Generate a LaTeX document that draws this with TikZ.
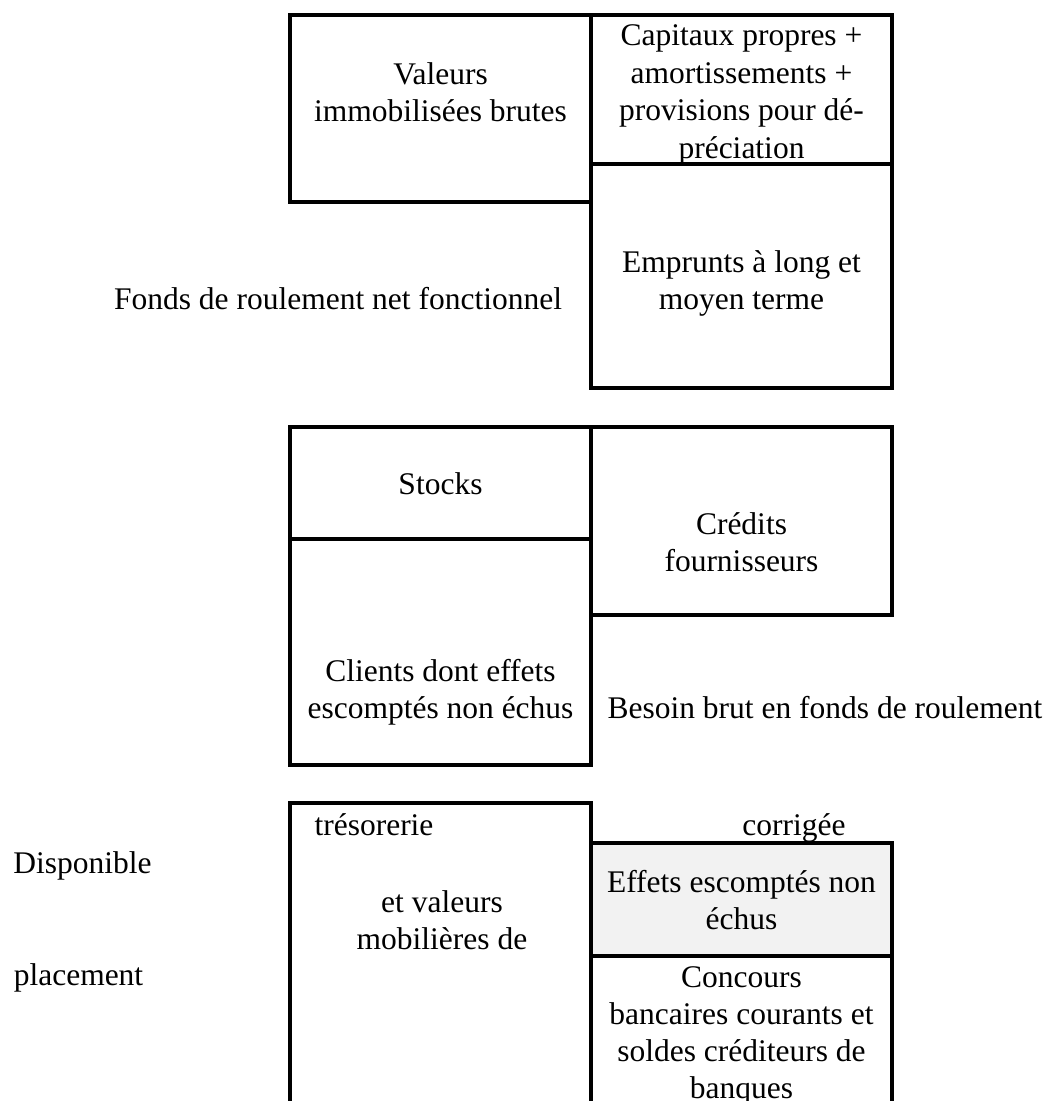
\documentclass[tikz,border=0pt]{standalone}
\usepackage{fontspec}
\setmainfont{Liberation Serif}
\definecolor{lightgrey}{RGB}{242,242,242}
\begin{document}
\begin{tikzpicture}[x=1pt,y=-1pt,
  box/.style={draw=black,line width=4pt,line join=miter},
  lbl/.style={font=\fontsize{31.5}{37}\selectfont,align=center,inner sep=0pt}]
\useasboundingbox (0,0) rectangle (1050,1101);
\clip (0,0) rectangle (1050,1101);
% top section
\draw[box] (290,15) rectangle (591,202);
\draw[box] (591,15) rectangle (892,163.5);
\draw[box] (591,163.5) rectangle (892,388);
\node[lbl] (valeurs) at (440.5,92) {Valeurs\\immobilisées brutes};
\node[lbl,font=\fontsize{31.5}{37.5}\selectfont] (capitaux) at (741.5,95) {Capitaux propres +\\amortissements +\\provisions pour dé-\\préciation};
\node[lbl] (emprunts) at (741.5,283) {Emprunts à long et\\moyen terme};
\node[lbl] (frnf) at (338,299) {Fonds de roulement net fonctionnel};
% middle section
\draw[box] (290,427) rectangle (591,539);
\draw[box] (290,539) rectangle (591,764.5);
\draw[box] (591,427) rectangle (892,615);
\node[lbl] (stocks) at (440.5,484) {Stocks};
\node[lbl] (credits) at (741.5,542) {Crédits\\fournisseurs};
\node[lbl] (clients) at (440.5,692) {Clients dont effets\\escomptés non échus};
\node[lbl] (besoin) at (825,708) {Besoin brut en fonds de roulement};
% bottom section
\draw[box] (290,1120) |- (591,803) -- (591,1120);
\draw[box,fill=lightgrey] (591,843) rectangle (892,956);
\draw[box] (892,956) -- (892,1120);
\node[lbl] (treso) at (374,825) {trésorerie};
\node[lbl] (corrigee) at (794,828) {corrigée};
\node[lbl] (dispo) at (82.5,866) {Disponible};
\node[lbl] (placement) at (78.5,978) {placement};
\node[lbl] (etval) at (442,920) {et valeurs\\mobilières de};
\node[lbl] (effets) at (741.5,900) {Effets escomptés non\\échus};
\node[lbl] (concours) at (741.5,1036) {Concours\\bancaires courants et\\soldes créditeurs de\\banques};
\end{tikzpicture}
\end{document}
